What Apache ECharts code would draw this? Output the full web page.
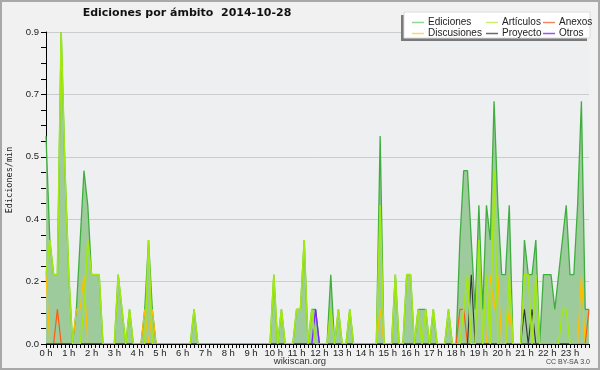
<!DOCTYPE html>
<html>
<head>
<meta charset="utf-8">
<script src="https://cdn.jsdelivr.net/npm/echarts@6/dist/echarts.min.js"></script>
<style>html,body{margin:0;padding:0;background:#f1f1f1;}#c{width:600px;height:370px;}</style>
</head>
<body>
<div id="c"></div>
<script>
// hour tick labels (one per hour, 10-minute bins in between)
const hourLabels = ['0 h','1 h','2 h','3 h','4 h','5 h','6 h','7 h','8 h','9 h','10 h','11 h',
  '12 h','13 h','14 h','15 h','16 h','17 h','18 h','19 h','20 h','21 h','22 h','23 h'];
const yTickLabels = ['0.0','0.2','0.4','0.5','0.7','0.9'];

// edits per minute, 10-minute bins (144 per day)
const ediciones = [
  0.6,0.3,0.2,0.2,0.9,0.5,0.2,0,0.1,0.3,0.5,0.4,
  0.2,0.2,0.2,0,0,0,0,0.2,0.1,0,0.1,0,
  0,0,0.1,0.3,0.1,0,0,0,0,0,0,0,
  0,0,0,0.1,0,0,0,0,0,0,0,0,
  0,0,0,0,0,0,0,0,0,0,0,0,
  0.2,0,0.1,0,0,0,0.1,0.1,0.3,0,0.1,0.1,
  0,0,0,0.2,0,0.1,0,0,0.1,0,0,0,
  0,0,0,0,0.6,0,0,0,0.2,0,0,0.2,
  0.2,0,0.1,0.1,0.1,0,0.1,0,0,0,0.1,0,
  0,0.3,0.5,0.5,0.3,0.1,0.4,0.1,0.4,0.3,0.7,0.4,
  0.2,0.2,0.4,0,0,0,0.3,0.2,0.2,0.3,0,0.2,
  0.2,0.2,0.1,0.2,0.3,0.4,0.2,0.2,0.4,0.7,0.1,0.1
];
const articulos = [
  0.2,0.3,0.2,0.2,0.9,0.5,0.2,0,0,0,0.1,0.3,
  0.2,0.2,0.2,0,0,0,0,0.2,0.1,0,0.1,0,
  0,0,0,0.3,0,0,0,0,0,0,0,0,
  0,0,0,0.1,0,0,0,0,0,0,0,0,
  0,0,0,0,0,0,0,0,0,0,0,0,
  0.2,0,0.1,0,0,0,0.1,0.1,0.3,0,0.1,0,
  0,0,0,0.1,0,0.1,0,0,0.1,0,0,0,
  0,0,0,0,0.4,0,0,0,0.2,0,0,0.2,
  0.2,0,0.1,0,0.1,0,0.1,0,0,0,0.1,0,
  0,0,0.1,0.2,0,0,0.3,0,0.2,0,0.5,0,
  0,0,0.2,0,0,0,0.2,0.2,0,0.2,0,0,
  0,0,0,0,0.1,0.1,0,0,0,0,0,0
];
const anexos = [
  0,0,0,0.1,0,0,0,0,0,0,0,0,
  0,0,0,0,0,0,0,0,0,0,0,0,
  0,0,0,0,0,0,0,0,0,0,0,0,
  0,0,0,0,0,0,0,0,0,0,0,0,
  0,0,0,0,0,0,0,0,0,0,0,0,
  0,0,0,0,0,0,0,0,0,0,0,0,
  0,0,0,0,0,0,0,0,0,0,0,0,
  0,0,0,0,0,0,0,0,0,0,0,0,
  0,0,0,0,0,0,0,0,0,0,0,0,
  0,0.1,0.1,0,0,0,0,0,0,0,0,0,
  0,0,0,0,0,0,0,0,0,0,0,0,
  0,0,0,0,0,0,0,0,0,0,0,0.1
];
const discusiones = [
  0.2,0,0,0,0,0,0,0,0.1,0.1,0.2,0,
  0,0,0,0,0,0,0,0,0,0,0,0,
  0,0,0.1,0,0.1,0,0,0,0,0,0,0,
  0,0,0,0,0,0,0,0,0,0,0,0,
  0,0,0,0,0,0,0,0,0,0,0,0,
  0,0,0,0,0,0,0,0,0,0,0,0,
  0,0,0,0,0,0,0,0,0,0,0,0,
  0,0,0,0,0.1,0,0,0,0,0,0,0,
  0,0,0,0,0,0,0,0,0,0,0,0,
  0,0,0,0,0,0,0,0,0,0.2,0.1,0.2,
  0,0,0.1,0,0,0,0,0,0,0,0,0,
  0,0,0,0,0,0,0,0,0,0.2,0,0
];
const proyecto = [
  0,0,0,0,0,0,0,0,0,0,0,0,
  0,0,0,0,0,0,0,0,0,0,0,0,
  0,0,0,0,0,0,0,0,0,0,0,0,
  0,0,0,0,0,0,0,0,0,0,0,0,
  0,0,0,0,0,0,0,0,0,0,0,0,
  0,0,0,0,0,0,0,0,0,0,0,0,
  0,0,0,0,0,0,0,0,0,0,0,0,
  0,0,0,0,0,0,0,0,0,0,0,0,
  0,0,0,0,0,0,0,0,0,0,0,0,
  0,0,0,0,0.2,0,0,0,0,0,0,0,
  0,0,0,0,0,0,0.1,0,0.1,0,0,0,
  0,0,0,0,0,0,0,0,0,0,0,0
];
const otros = [
  0,0,0,0,0,0,0,0,0,0,0,0,
  0,0,0,0,0,0,0,0,0,0,0,0,
  0,0,0,0,0,0,0,0,0,0,0,0,
  0,0,0,0,0,0,0,0,0,0,0,0,
  0,0,0,0,0,0,0,0,0,0,0,0,
  0,0,0,0,0,0,0,0,0,0,0,0.1,
  0,0,0,0,0,0,0,0,0,0,0,0,
  0,0,0,0,0,0,0,0,0,0,0,0,
  0,0,0,0,0,0,0,0,0,0,0,0,
  0,0,0,0,0,0,0,0,0,0,0,0,
  0,0,0,0,0,0,0,0,0,0,0,0,
  0,0,0,0,0,0,0,0,0,0,0,0
];

const categories = [];
hourLabels.forEach(function (h, i) {
  for (let m = 0; m < 6; m++) categories.push(i + ':' + m + '0');
});

const chart = echarts.init(document.getElementById('c'), null, {renderer: 'canvas'});

function lineSeries(name, data, color, legendColor, width, z) {
  return {
    name: name, type: 'line', data: data, showSymbol: false, symbol: 'none',
    lineStyle: {color: color, width: width}, itemStyle: {color: legendColor},
    z: z, animation: false
  };
}

const legendCommon = {
  orient: 'vertical', icon: 'rect', itemWidth: 12, itemHeight: 1.5, itemGap: 0,
  top: 12, z: 6,
  textStyle: {fontFamily: 'Liberation Sans', fontSize: 10, color: '#222', lineHeight: 11, padding: [0,0,0,-1]},
  selectedMode: false
};

const option = {
  backgroundColor: '#f1f1f1',
  animation: false,
  grid: {left: 46, right: 11, top: 32, bottom: 26, show: true, backgroundColor: '#edeff1', borderWidth: 0},
  xAxis: {
    type: 'category', data: categories, boundaryGap: false, z: 10,
    axisLine: {lineStyle: {color: '#000', width: 1}},
    axisTick: {show: true, interval: 0, length: 4, lineStyle: {color: '#000'}},
    axisLabel: {interval: 5, margin: 4, fontFamily: 'Liberation Sans', fontSize: 9.5, color: '#222',
      formatter: function (v, i) { return hourLabels[Math.round(i / 6)]; }},
    splitLine: {show: false}
  },
  yAxis: {
    type: 'value', min: 0, max: 0.9, interval: 0.18,
    axisLine: {show: true, lineStyle: {color: '#000', width: 1}},
    axisTick: {show: true, length: 5, lineStyle: {color: '#000'}},
    minorTick: {show: true, splitNumber: 4, length: 5, lineStyle: {color: '#000'}},
    axisLabel: {margin: 7, fontFamily: 'Liberation Sans', fontSize: 9.5, color: '#222',
      formatter: function (v, i) { return yTickLabels[i]; }},
    splitLine: {show: true, lineStyle: {color: '#cccccc', width: 1}}
  },
  legend: [
    Object.assign({}, legendCommon, {left: 407, data: ['Ediciones', 'Discusiones']}),
    Object.assign({}, legendCommon, {left: 481, data: ['Artículos', 'Proyecto']}),
    Object.assign({}, legendCommon, {left: 538, data: ['Anexos', 'Otros']})
  ],
  graphic: [
    {type: 'rect', shape: {x: 401, y: 15, width: 186, height: 26}, style: {fill: '#7a7a7a'}, z: 3, silent: true},
    {type: 'rect', shape: {x: 404, y: 12, width: 186, height: 26}, style: {fill: '#ffffff', stroke: '#dcdcdc', lineWidth: 1}, z: 4, silent: true},
    {type: 'text', x: 187, y: 8, z: 5, style: {text: 'Ediciones por ámbito  2014-10-28', fontFamily: 'DejaVu Sans', fontWeight: 'bold', fontSize: 11, fill: '#111', textAlign: 'center'}},
    {type: 'text', x: 10, y: 180, rotation: Math.PI / 2, z: 5, style: {text: 'Ediciones/min', fontFamily: 'DejaVu Sans Mono', fontSize: 8.5, fill: '#222', textAlign: 'center', textVerticalAlign: 'middle'}},
    {type: 'text', x: 300, y: 361, z: 5, style: {text: 'wikiscan.org', fontFamily: 'Liberation Sans', fontSize: 9.5, fill: '#333', textAlign: 'center', textVerticalAlign: 'middle'}},
    {type: 'text', x: 590, y: 362, z: 5, style: {text: 'CC BY-SA 3.0', fontFamily: 'Liberation Sans', fontSize: 7, fill: '#444', textAlign: 'right', textVerticalAlign: 'middle'}},
    {type: 'rect', shape: {x: 1, y: 1, width: 598, height: 368}, style: {fill: 'none', stroke: '#a8a8a8', lineWidth: 2}, z: 100, silent: true}
  ],
  series: [
    Object.assign(lineSeries('Ediciones', ediciones, '#3fae3f', '#8fd88f', 1.3, 2), {areaStyle: {color: '#9ecb9c', opacity: 1}}),
    lineSeries('Discusiones', discusiones, '#ffbf00', '#ffd966', 1.2, 3),
    lineSeries('Anexos', anexos, '#ff5a10', '#f08a60', 1.2, 3),
    lineSeries('Proyecto', proyecto, '#333333', '#6a6a6a', 1.1, 3),
    lineSeries('Otros', otros, '#7a22ff', '#9a55ee', 1.3, 3),
    lineSeries('Artículos', articulos, '#a2e812', '#cdef6a', 1.6, 4)
  ]
};
chart.setOption(option);
</script>
</body>
</html>
